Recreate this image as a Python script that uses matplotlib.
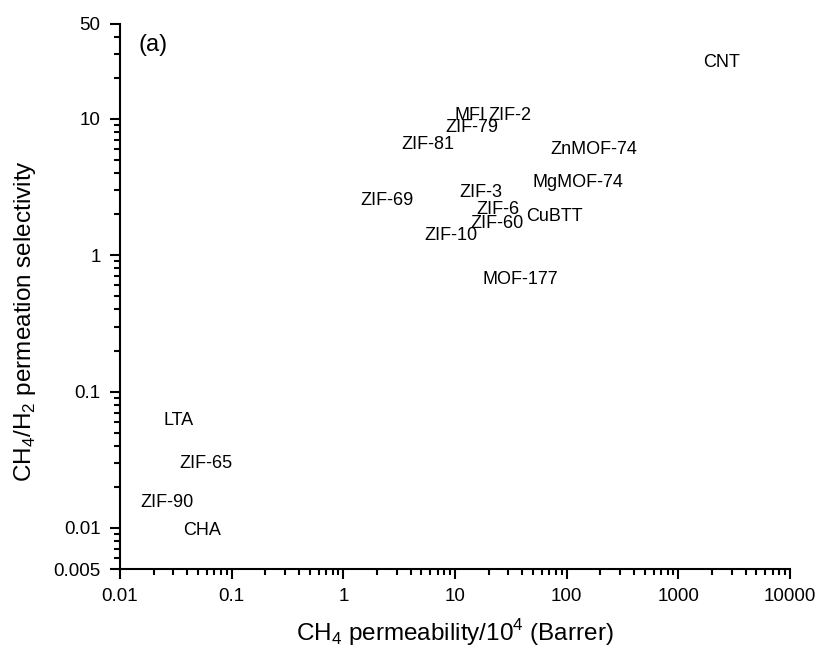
import numpy as np
import matplotlib.pyplot as plt
from matplotlib.ticker import FixedLocator, LogLocator, NullFormatter, FixedFormatter

plt.rcParams['font.family'] = ['Liberation Sans', 'DejaVu Sans']
plt.rcParams['mathtext.fontset'] = 'custom'
plt.rcParams['mathtext.rm'] = 'Liberation Sans'

# material names and where their labels sit
materials = ['CNT', 'MFI', 'ZIF-2', 'ZIF-79', 'ZIF-81', 'ZnMOF-74', 'MgMOF-74',
             'ZIF-69', 'ZIF-3', 'ZIF-6', 'CuBTT', 'ZIF-60', 'ZIF-10', 'MOF-177',
             'LTA', 'ZIF-65', 'ZIF-90', 'CHA']
permeability = [2450, 13.6, 31.0, 14.2, 5.72, 175, 126,
                2.46, 17.1, 24.2, 78.4, 23.7, 9.19, 38.1,
                0.0337, 0.0589, 0.0264, 0.0542]
selectivity = [26.1, 10.6, 10.6, 8.7, 6.52, 5.94, 3.43,
               2.50, 2.90, 2.18, 1.93, 1.72, 1.40, 0.667,
               0.0616, 0.0298, 0.0154, 0.0096]

x_ticks = [0.01, 0.1, 1, 10, 100, 1000, 10000]
x_ticklabels = ['0.01', '0.1', '1', '10', '100', '1000', '10000']
y_ticks = [0.005, 0.01, 0.1, 1, 10, 50]
y_ticklabels = ['0.005', '0.01', '0.1', '1', '10', '50']

fig = plt.figure(figsize=(8.19, 6.54), dpi=100)
ax = fig.add_axes([120/819, 1-569/654, 670/819, 545.5/654])

ax.set_xscale('log')
ax.set_yscale('log')
ax.set_xlim(0.01, 10000)
ax.set_ylim(0.005, 50)

for name, px, py in zip(materials, permeability, selectivity):
    ax.text(px, py, name, ha='center', va='center', fontsize=13)

ax.text(0.027, 0.96, '(a)', transform=ax.transAxes, ha='left', va='center', fontsize=17)

ax.xaxis.set_major_locator(FixedLocator(x_ticks))
ax.xaxis.set_major_formatter(FixedFormatter(x_ticklabels))
ax.xaxis.set_minor_locator(LogLocator(base=10, subs=np.arange(2, 10), numticks=20))
ax.xaxis.set_minor_formatter(NullFormatter())
ax.yaxis.set_major_locator(FixedLocator(y_ticks))
ax.yaxis.set_major_formatter(FixedFormatter(y_ticklabels))
ax.yaxis.set_minor_locator(LogLocator(base=10, subs=np.arange(2, 10), numticks=20))
ax.yaxis.set_minor_formatter(NullFormatter())

for s in ['top', 'right']:
    ax.spines[s].set_visible(False)
for s in ['left', 'bottom']:
    ax.spines[s].set_linewidth(1.5)

ax.tick_params(which='major', direction='out', length=7, width=1.5, labelsize=13.5, pad=7)
ax.tick_params(which='minor', direction='out', length=4, width=1.5)

ax.set_xlabel('CH$_4$ permeability/10$^4$ (Barrer)', fontsize=17.5)
ax.set_ylabel('CH$_4$/H$_2$ permeation selectivity', fontsize=17.5)
# label anchors in axes fractions
ax.xaxis.set_label_coords(0.5, -0.088)
ax.yaxis.set_label_coords(-0.122, 0.455)

fig.savefig('out.png', dpi=100)
